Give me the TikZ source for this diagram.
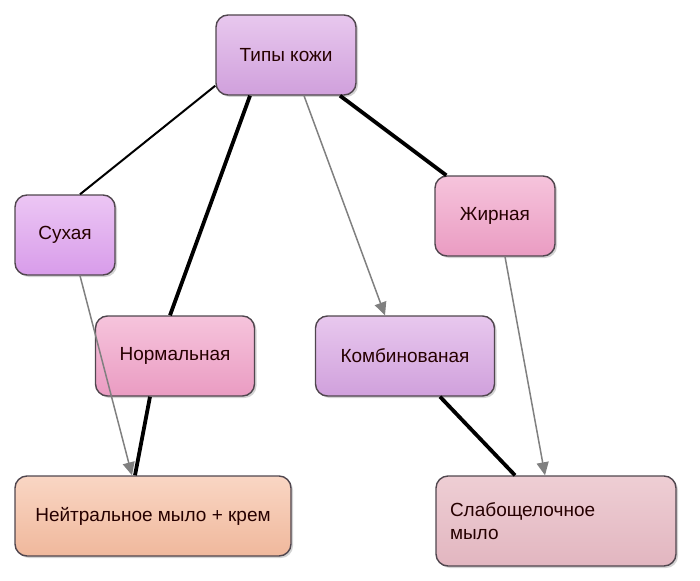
\documentclass[tikz,border=0pt]{standalone}
\usepackage{fontspec}
\setmainfont{Liberation Sans}
\definecolor{lilactop}{RGB}{232, 200, 238}
\definecolor{lilacbot}{RGB}{208, 160, 220}
\definecolor{violettop}{RGB}{236, 198, 244}
\definecolor{violetbot}{RGB}{216, 156, 234}
\definecolor{pinktop}{RGB}{246, 196, 220}
\definecolor{pinkbot}{RGB}{234, 156, 194}
\definecolor{peachtop}{RGB}{249, 214, 196}
\definecolor{peachbot}{RGB}{240, 184, 156}
\definecolor{rosetop}{RGB}{238, 206, 212}
\definecolor{rosebot}{RGB}{226, 182, 192}
\definecolor{boxedge}{RGB}{80, 70, 78}
\definecolor{greyarrow}{RGB}{128, 128, 128}
\usetikzlibrary{arrows.meta, shadows, calc}

\begin{document}
\begin{tikzpicture}[x=1pt, y=-1pt,
    skinbox/.style={draw=boxedge, line width=1.4pt, rounded corners=12pt,
        font=\fontsize{19}{23}\selectfont, text=black!85!red,
        minimum height=80pt, align=center,
        drop shadow={opacity=0.35, shadow xshift=2pt, shadow yshift=-2pt}},
    blackline/.style={line width=3.8pt, black},
    greyline/.style={greyarrow, line width=1.5pt, -{Triangle[length=13pt, width=12pt]}}]
    \useasboundingbox (0,0) rectangle (700,580);

    % Top node
    \node[skinbox, minimum width=140pt, top color=lilactop, bottom color=lilacbot]
        (tipy) at (286,55) {Типы кожи};

    % Skin types
    \node[skinbox, minimum width=100pt, top color=violettop, bottom color=violetbot]
        (sukh) at (65,235) {Сухая};
    \node[skinbox, minimum width=120pt, top color=pinktop, bottom color=pinkbot]
        (zhir) at (495,216) {Жирная};
    \node[skinbox, minimum width=159pt, top color=pinktop, bottom color=pinkbot]
        (norm) at (175,356) {Нормальная};
    \node[skinbox, minimum width=179pt, top color=lilactop, bottom color=lilacbot]
        (komb) at (405,356) {Комбинованая};

    % Care
    \node[skinbox, minimum width=276pt, top color=peachtop, bottom color=peachbot]
        (neut) at (153,516) {Нейтральное мыло + крем};
    \node[skinbox, minimum width=240pt, minimum height=90pt, text width=212pt,
          inner xsep=14pt, align=left, top color=rosetop, bottom color=rosebot]
        (slab) at (556,521) {Слабощелочное\\мыло};

    % Connectors from the top node
    \draw[black, line width=2pt] ([yshift=10pt]tipy.south west) -- ([xshift=15pt]sukh.north);
    \draw[blackline] ([xshift=-36pt]tipy.south) -- ([xshift=-5pt]norm.north);
    \draw[greyline] ([xshift=18pt]tipy.south) -- ([xshift=-20pt]komb.north);
    \draw[blackline] ([xshift=54pt]tipy.south) -- ([xshift=12pt]zhir.north west);

    % Connectors to the care nodes
    \draw[greyline] ([xshift=15pt]sukh.south) -- ([xshift=-21pt]neut.north);
    \draw[blackline] ([xshift=-25pt]norm.south) -- ([xshift=-18pt]neut.north);
    \draw[blackline] ([xshift=35pt]komb.south) -- ([xshift=-41pt]slab.north);
    \draw[greyline] ([xshift=10pt]zhir.south) -- ([xshift=-11pt]slab.north);
\end{tikzpicture}
\end{document}
